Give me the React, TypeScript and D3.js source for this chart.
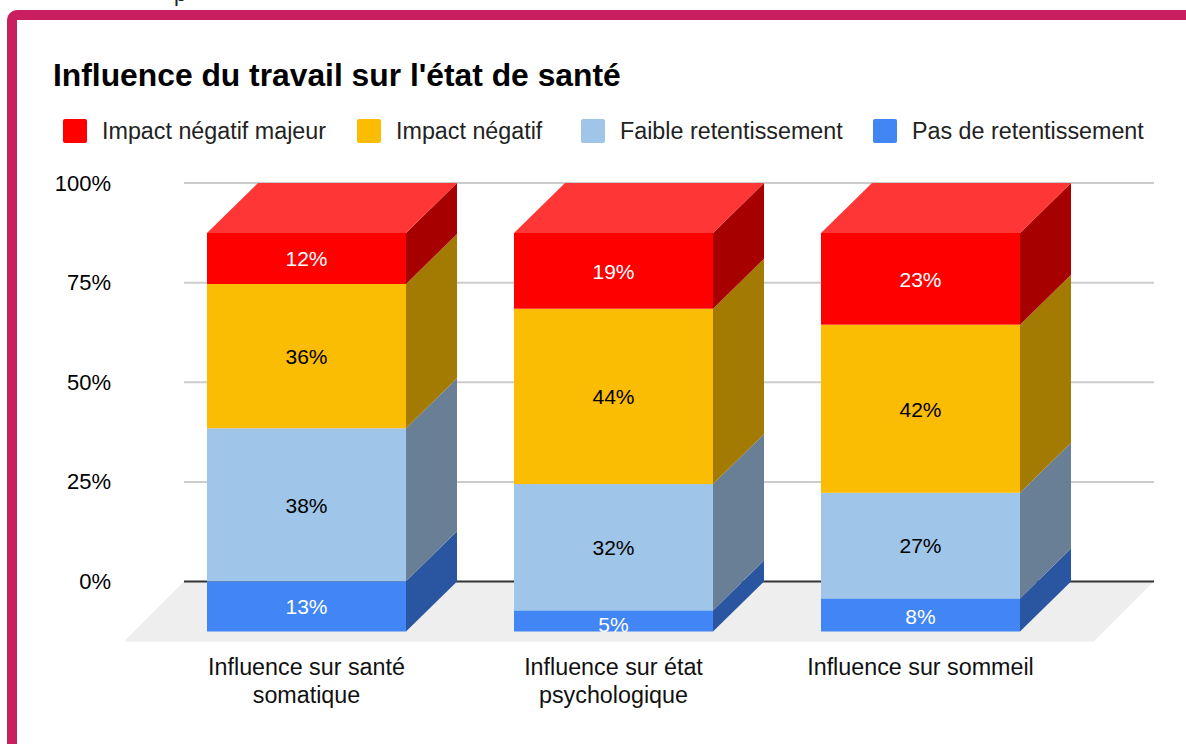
import React from "react";
import * as d3 from "d3";

const categories = [["Influence sur santé", "somatique"], ["Influence sur état", "psychologique"], ["Influence sur sommeil"]];
const seriesNames = ["Pas de retentissement", "Faible retentissement", "Impact négatif", "Impact négatif majeur"];
const pasValues = [12.6, 5.3, 8.3];
const faibleValues = [38.4, 31.7, 26.5];
const negatifValues = [36.2, 44.0, 42.2];
const majeurValues = [12.8, 19.0, 23.0];
const pasLabels = ["13%", "5%", "8%"];
const faibleLabels = ["38%", "32%", "27%"];
const negatifLabels = ["36%", "44%", "42%"];
const majeurLabels = ["12%", "19%", "23%"];
const yTicks = [0, 25, 50, 75, 100];
const frontColors = ["#4285f4", "#9fc5e8", "#fbbc04", "#ff0000"];
const sideColors = ["#2a55a0", "#697f96", "#a37a02", "#a60000"];
const topColor = "#ff3636";
const labelColors = ["#ffffff", "#000000", "#000000", "#ffffff"];
const legendOrder = [3, 2, 1, 0];
const legendSwatchX = [63, 357, 581, 873];

const FONT = "'Liberation Sans', Arial, sans-serif";
const DEPTH = 50;
const DEPTH_X = 51;

export default function App() {
  const y = d3.scaleLinear().domain([0, 100]).range([631.5, 233]);
  const x = d3.scaleBand<number>().domain([0, 1, 2]).range([207, 1020]).paddingInner(108 / 307).paddingOuter(0);
  const values = [pasValues, faibleValues, negatifValues, majeurValues];
  const labels = [pasLabels, faibleLabels, negatifLabels, majeurLabels];
  const stacked = d3.stack<number>().keys([0, 1, 2, 3]).value((i, k) => values[k as number][i])([0, 1, 2]);
  const bw = x.bandwidth();

  return (
    <svg width={1186} height={744} style={{ position: "absolute", left: 0, top: 0, background: "#fff" }} fontFamily={FONT}>
      <text x={174} y={1} fontSize={22} fill="#222">p</text>
      <rect x={12} y={15} width={1300} height={900} rx={5} fill="#fff" stroke="#c91f5f" strokeWidth={10} />
      <text x={53} y={86} fontSize={31.8} fontWeight="bold" fill="#000">Influence du travail sur l'état de santé</text>

      {legendOrder.map((s, i) => (
        <g key={s}>
          <rect x={legendSwatchX[i]} y={119} width={24} height={24} rx={2} fill={frontColors[s]} />
          <text x={legendSwatchX[i] + 39} y={139} fontSize={23.3} fill="#222">{seriesNames[s]}</text>
        </g>
      ))}

      <polygon points={`${124},${641.5} ${184},${581.5} ${1154},${581.5} ${1094},${641.5}`} fill="#eeeeee" />
      {yTicks.map((t) => {
        const gy = y(t) - DEPTH;
        return (
          <g key={t}>
            <line x1={184} x2={1154} y1={gy} y2={gy} stroke={t === 0 ? "#333" : "#ccc"} strokeWidth={2} />
            <text x={111} y={gy + 7.5} fontSize={22} textAnchor="end" fill="#000">{t}%</text>
          </g>
        );
      })}

      {[0, 1, 2].map((c) => {
        const x0 = x(c)!;
        const x1 = x0 + bw;
        return (
          <g key={c}>
            {stacked.map((layer, s) => {
              const yb = y(layer[c][0]);
              const yt = y(layer[c][1]);
              return (
                <g key={s}>
                  <rect x={x0} y={yt} width={bw} height={yb - yt} fill={frontColors[s]} />
                  <polygon points={`${x1},${yb} ${x1 + DEPTH_X},${yb - DEPTH} ${x1 + DEPTH_X},${yt - DEPTH} ${x1},${yt}`} fill={sideColors[s]} />
                </g>
              );
            })}
            <polygon points={`${x0},${y(100)} ${x0 + DEPTH_X},${y(100) - DEPTH} ${x1 + DEPTH_X},${y(100) - DEPTH} ${x1},${y(100)}`} fill={topColor} />
            {stacked.map((layer, s) => {
              const yb = y(layer[c][0]);
              const yt = y(layer[c][1]);
              const nudge = Math.max(0, (50 - (yb - yt)) * 0.1);
              return (
                <text key={s} x={(x0 + x1) / 2} y={(yb + yt) / 2 + 7.8 + nudge} fontSize={21} textAnchor="middle" fill={labelColors[s]}>
                  {labels[s][c]}
                </text>
              );
            })}
            {categories[c].map((line, i) => (
              <text key={i} x={(x0 + x1) / 2} y={675 + i * 28} fontSize={23.3} textAnchor="middle" fill="#111">{line}</text>
            ))}
          </g>
        );
      })}
    </svg>
  );
}
